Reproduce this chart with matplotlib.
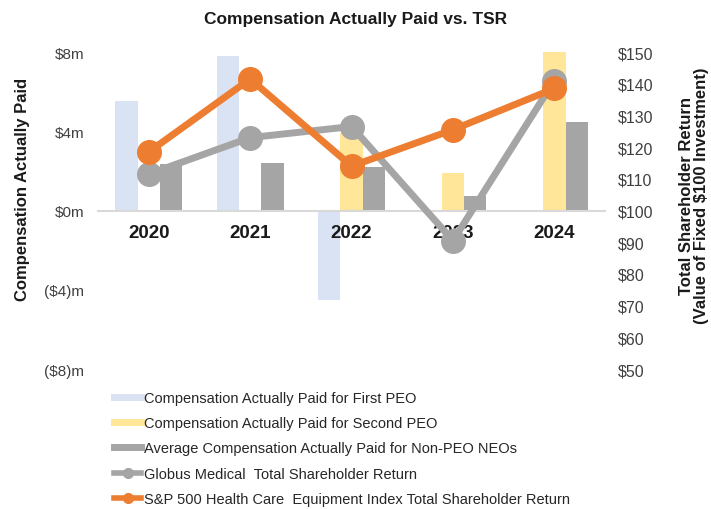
import matplotlib
matplotlib.use("Agg")
import matplotlib.pyplot as plt
from matplotlib.lines import Line2D
import numpy as np

# данные с графика
years = ["2020", "2021", "2022", "2023", "2024"]
cap_first_peo = [5.55, 7.8, -4.5, 0, 0]          # $m
cap_second_peo = [0, 0, 3.9, 1.9, 8.0]          # $m
cap_non_peo = [2.35, 2.4, 2.2, 0.75, 4.45]      # $m
tsr_globus = [111.5, 123.0, 126.5, 90.5, 141.0]
tsr_sp500 = [118.5, 141.5, 114.0, 125.5, 138.5]

left_ticks = [-8, -4, 0, 4, 8]
left_labels = ["($8)m", "($4)m", "$0m", "$4m", "$8m"]
right_ticks = list(range(50, 151, 10))

legend_labels = [
    "Compensation Actually Paid for First PEO",
    "Compensation Actually Paid for Second PEO",
    "Average Compensation Actually Paid for Non-PEO NEOs",
    "Globus Medical  Total Shareholder Return",
    "S&P 500 Health Care  Equipment Index Total Shareholder Return",
]

c_blue = "#DAE3F3"
c_yellow = "#FFE699"
c_gray = "#A5A5A5"
c_orange = "#ED7D31"
c_text = "#404040"

plt.rcParams["font.family"] = ["Liberation Sans", "DejaVu Sans"]

fig = plt.figure(figsize=(7.11, 5.10), dpi=100)
ax = fig.add_axes([0.138, 0.2745, 0.713, 0.6215])
ax2 = ax.twinx()

# сначала оси, потом подписи (set_position сбрасывает тики)
for a in (ax, ax2):
    for s in ["top", "right", "left", "bottom"]:
        a.spines[s].set_visible(False)
ax.spines["bottom"].set_visible(True)
ax.spines["bottom"].set_position(("data", 0))
ax.spines["bottom"].set_color("#D9D9D9")
ax.spines["bottom"].set_linewidth(1.5)

x = np.arange(len(years))
w = 0.22
ax.bar(x - w, cap_first_peo, w, color=c_blue)
ax.bar(x, cap_second_peo, w, color=c_yellow)
ax.bar(x + w, cap_non_peo, w, color=c_gray)

ax2.plot(x, tsr_globus, color=c_gray, lw=5, marker="o", ms=17, zorder=3)
ax2.plot(x, tsr_sp500, color=c_orange, lw=5, marker="o", ms=17, zorder=4)

ax.set_xlim(-0.5, 4.5)
ax.set_ylim(-8, 8)
ax2.set_ylim(50, 150)

ax.set_yticks(left_ticks)
ax.set_yticklabels(left_labels, fontsize=11, color=c_text)
ax2.set_yticks(right_ticks)
ax2.set_yticklabels(["$%d" % t for t in right_ticks], fontsize=11.5, color=c_text)

ax.set_xticks(x)
ax.set_xticklabels(years, fontsize=13.5, fontweight="bold", color="#1a1a1a")

ax.tick_params(axis="x", length=0, pad=10)
ax.tick_params(axis="y", length=0, pad=10)
ax2.tick_params(axis="y", length=0, pad=9)

ax.set_ylabel("Compensation Actually Paid", fontsize=12, fontweight="bold", color="#1a1a1a")
ax.yaxis.set_label_coords(-0.135, 0.57)
ax2.set_ylabel("Total Shareholder Return\n(Value of Fixed $100 Investment)",
               fontsize=12, fontweight="bold", color="#1a1a1a", rotation=90,
               linespacing=1.05)
ax2.yaxis.set_label_coords(1.145, 0.55)

fig.text(0.5, 0.962, "Compensation Actually Paid vs. TSR", ha="center", va="center",
         fontsize=12.5, fontweight="bold", color="#1a1a1a")

handles = [
    Line2D([0], [0], color=c_blue, lw=5),
    Line2D([0], [0], color=c_yellow, lw=5),
    Line2D([0], [0], color=c_gray, lw=5),
    Line2D([0], [0], color=c_gray, lw=4, marker="o", ms=7),
    Line2D([0], [0], color=c_orange, lw=4, marker="o", ms=7),
]
leg = fig.legend(handles, legend_labels, loc="upper left", bbox_to_anchor=(0.16, 0.232),
                 frameon=False, fontsize=10.5, labelspacing=0.78, handlelength=1.9,
                 handletextpad=0.2, borderpad=0, borderaxespad=0)
for t in leg.get_texts():
    t.set_color("#262626")

plt.savefig("out.png", dpi=100)
